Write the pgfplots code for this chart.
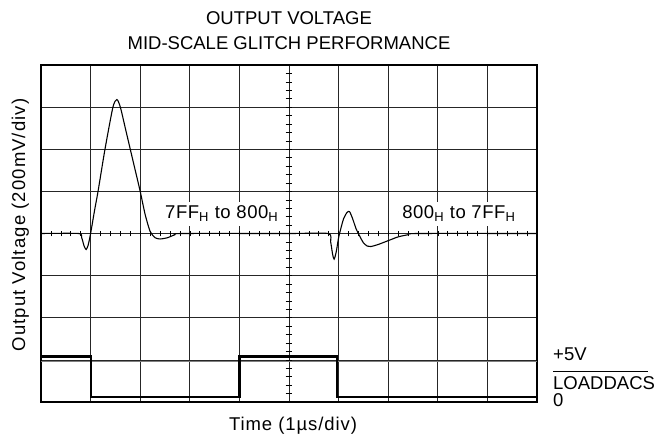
\documentclass[border=0pt]{standalone}
\usepackage{fontspec}
\setmainfont{Liberation Sans}
\usepackage{pgfplots}
\pgfplotsset{compat=1.18}

% Glitch trace (divisions: 1 us/div horizontally, 200 mV/div vertically)
\pgfplotstableread{
x y
0.00 0.00
0.76 0.00
0.82 -0.10
0.87 -0.30
0.91 -0.38
0.95 -0.28
1.00 0.00
1.08 0.55
1.15 1.00
1.29 2.00
1.45 3.00
1.53 3.18
1.60 3.00
1.70 2.50
1.80 2.00
1.90 1.50
2.00 1.00
2.10 0.45
2.20 0.05
2.30 -0.10
2.40 -0.13
2.55 -0.10
2.70 -0.03
2.85 0.00
5.00 0.00
5.79 0.00
5.84 -0.20
5.88 -0.50
5.91 -0.61
5.95 -0.45
6.00 -0.10
6.03 0.05
6.10 0.35
6.17 0.50
6.22 0.52
6.28 0.36
6.35 0.12
6.42 -0.05
6.50 -0.22
6.58 -0.30
6.65 -0.31
6.80 -0.26
7.00 -0.17
7.20 -0.08
7.40 -0.03
7.60 0.00
10.00 0.00
}\glitch

% LOADDACS logic trace
\pgfplotstableread{
x y
0.00 -2.92
1.00 -2.92
1.00 -3.89
4.00 -3.89
4.00 -2.92
5.97 -2.92
5.97 -3.89
10.00 -3.89
}\loaddacs

\newcommand\lbl{\fontsize{18.5}{22}\selectfont}
\newcommand\spaced[1]{\addfontfeatures{LetterSpace=#1}}

\begin{document}
\begin{tikzpicture}
\path[use as bounding box] (0,0) rectangle (655pt,439pt);
\begin{axis}[
  at={(41pt,37pt)}, anchor=south west,
  scale only axis, width=496pt, height=337pt,
  xmin=0, xmax=10, ymin=-4, ymax=4,
  xtick={0,...,10}, ytick={-4,...,4},
  xticklabels={}, yticklabels={},
  major tick length=0pt,
  grid=major,
  major grid style={black!85, line width=0.7pt},
  axis line style={line width=2pt},
  clip=false,
]
% small division marks along the centre lines
\pgfplotsinvokeforeach{0.2,0.4,...,9.8}{
  \draw[line width=0.6pt] (axis cs:#1,-0.07) -- (axis cs:#1,0.07);
}
\pgfplotsinvokeforeach{-3.8,-3.6,...,3.8}{
  \draw[line width=0.6pt] (axis cs:4.93,#1) -- (axis cs:5.07,#1);
}
\draw[gray, line width=0.6pt] (axis cs:0,-3.03) -- (axis cs:10,-3.03);
\addplot[black, line width=1.1pt, smooth, tension=0.4] table {\glitch};
\addplot[black, line width=2.2pt, sharp plot] table {\loaddacs};
\node[anchor=base west, inner xsep=1pt, inner ysep=4pt, font=\lbl\spaced{3}, fill=white]
  at (axis cs:2.48,0.35) {7FF\textsubscript{H} to 800\textsubscript{H}};
\node[anchor=base west, inner xsep=1pt, inner ysep=4pt, font=\lbl\spaced{3}, fill=white]
  at (axis cs:7.26,0.35) {800\textsubscript{H} to 7FF\textsubscript{H}};
\end{axis}
\node[anchor=base, font=\lbl] at (289pt,414pt) {OUTPUT VOLTAGE};
\node[anchor=base, font=\lbl] at (289pt,389pt) {MID-SCALE GLITCH PERFORMANCE};
\node[anchor=base, font=\lbl\spaced{5}] at (293pt,9pt) {Time (1µs/div)};
\node[anchor=base, rotate=90, font=\lbl\spaced{6}] at (25pt,214pt) {Output Voltage (200mV/div)};
\node[anchor=base west, inner sep=0pt, font=\lbl] at (553pt,79pt) {+5V};
\node[anchor=base west, inner sep=0pt, font=\lbl] at (553pt,50pt) {LOADDACS};
\draw[line width=0.8pt] (553pt,68pt) -- (648pt,68pt);
\node[anchor=base west, inner sep=0pt, font=\lbl] at (553pt,33pt) {0};
\end{tikzpicture}
\end{document}
